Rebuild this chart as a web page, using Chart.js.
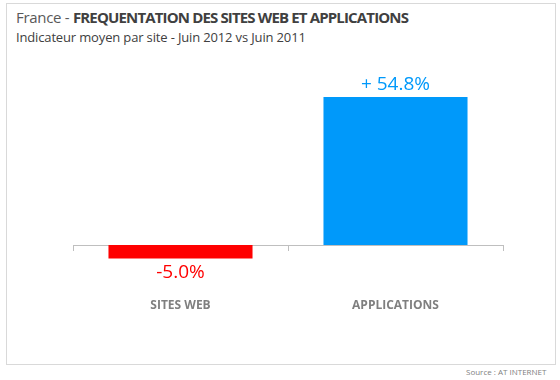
<!DOCTYPE html>
<html><head><meta charset="utf-8">
<script src="https://cdn.jsdelivr.net/npm/chart.js@4"></script>
<style>
html,body{margin:0;padding:0;background:#fff;}
#wrap{position:relative;width:560px;height:380px;overflow:hidden;}
#frame{position:absolute;left:6px;top:3px;width:548px;height:360px;border:1px solid #d9d9d9;}
#title{position:absolute;left:16px;top:6px;font-size:16px;white-space:nowrap;color:#595959;font-family:"Open Sans",sans-serif;}
#title .n{font-size:15px;letter-spacing:-0.3px;}
#title b{color:#404040;font-weight:bold;font-size:15px;letter-spacing:-0.85px;}
#sub{position:absolute;left:16px;top:28px;font-size:13px;color:#404040;font-family:"Open Sans",sans-serif;white-space:nowrap;letter-spacing:-0.15px;}
#src{position:absolute;left:466px;top:366px;font-size:8px;color:#7f7f7f;font-family:"Open Sans",sans-serif;white-space:nowrap;letter-spacing:0px;}
canvas{position:absolute;left:0;top:0;}
</style></head>
<body><div id="wrap">
<div id="frame"></div>
<div id="title"><span class="n">France - </span><b>FREQUENTATION DES SITES WEB ET APPLICATIONS</b></div>
<div id="sub">Indicateur moyen par site - Juin 2012 vs Juin 2011</div>
<div id="src">Source : AT INTERNET</div>
<canvas id="c" width="560" height="380"></canvas>
</div>
<script>
const categories = ["SITES WEB", "APPLICATIONS"];
const values = [-5.0, 54.8];
const valueLabels = ["-5.0%", "+ 54.8%"];
const barColors = ["#ff0000", "#0099fa"];

const valueLabelPlugin = {
  id: 'valueLabels',
  afterDatasetsDraw(chart) {
    const ctx = chart.ctx;
    const meta = chart.getDatasetMeta(0);
    ctx.save();
    ctx.font = '19px "Open Sans", sans-serif';
    ctx.textAlign = 'center';
    meta.data.forEach((bar, i) => {
      const v = values[i];
      ctx.fillStyle = barColors[i];
      if (v >= 0) {
        ctx.textBaseline = 'bottom';
        ctx.fillText(valueLabels[i], bar.x, bar.y - 3);
      } else {
        ctx.textBaseline = 'top';
        ctx.fillText(valueLabels[i], bar.x, bar.y + 5);
      }
    });
    ctx.restore();
  }
};

new Chart(document.getElementById('c'), {
  type: 'bar',
  data: {
    labels: categories,
    datasets: [{
      data: values,
      backgroundColor: barColors,
      borderWidth: 0,
      barPercentage: 0.67,
      categoryPercentage: 1
    }]
  },
  options: {
    responsive: false,
    animation: false,
    layout: { padding: { left: 73, right: 57, top: 56, bottom: 81 } },
    plugins: { legend: { display: false }, title: { display: false }, tooltip: { enabled: false } },
    scales: {
      y: { display: false, min: -20, max: 70 },
      x: {
        position: { y: 0 },
        grid: { display: true, drawOnChartArea: false, drawTicks: true, tickLength: 5, color: '#bfbfbf', offset: true },
        border: { display: true, color: '#bfbfbf', width: 1 },
        ticks: { color: '#7f7f7f', padding: 48, font: { family: '"Open Sans", sans-serif', size: 12, weight: 'bold' } }
      }
    }
  },
  plugins: [valueLabelPlugin]
});
</script>
</body></html>
